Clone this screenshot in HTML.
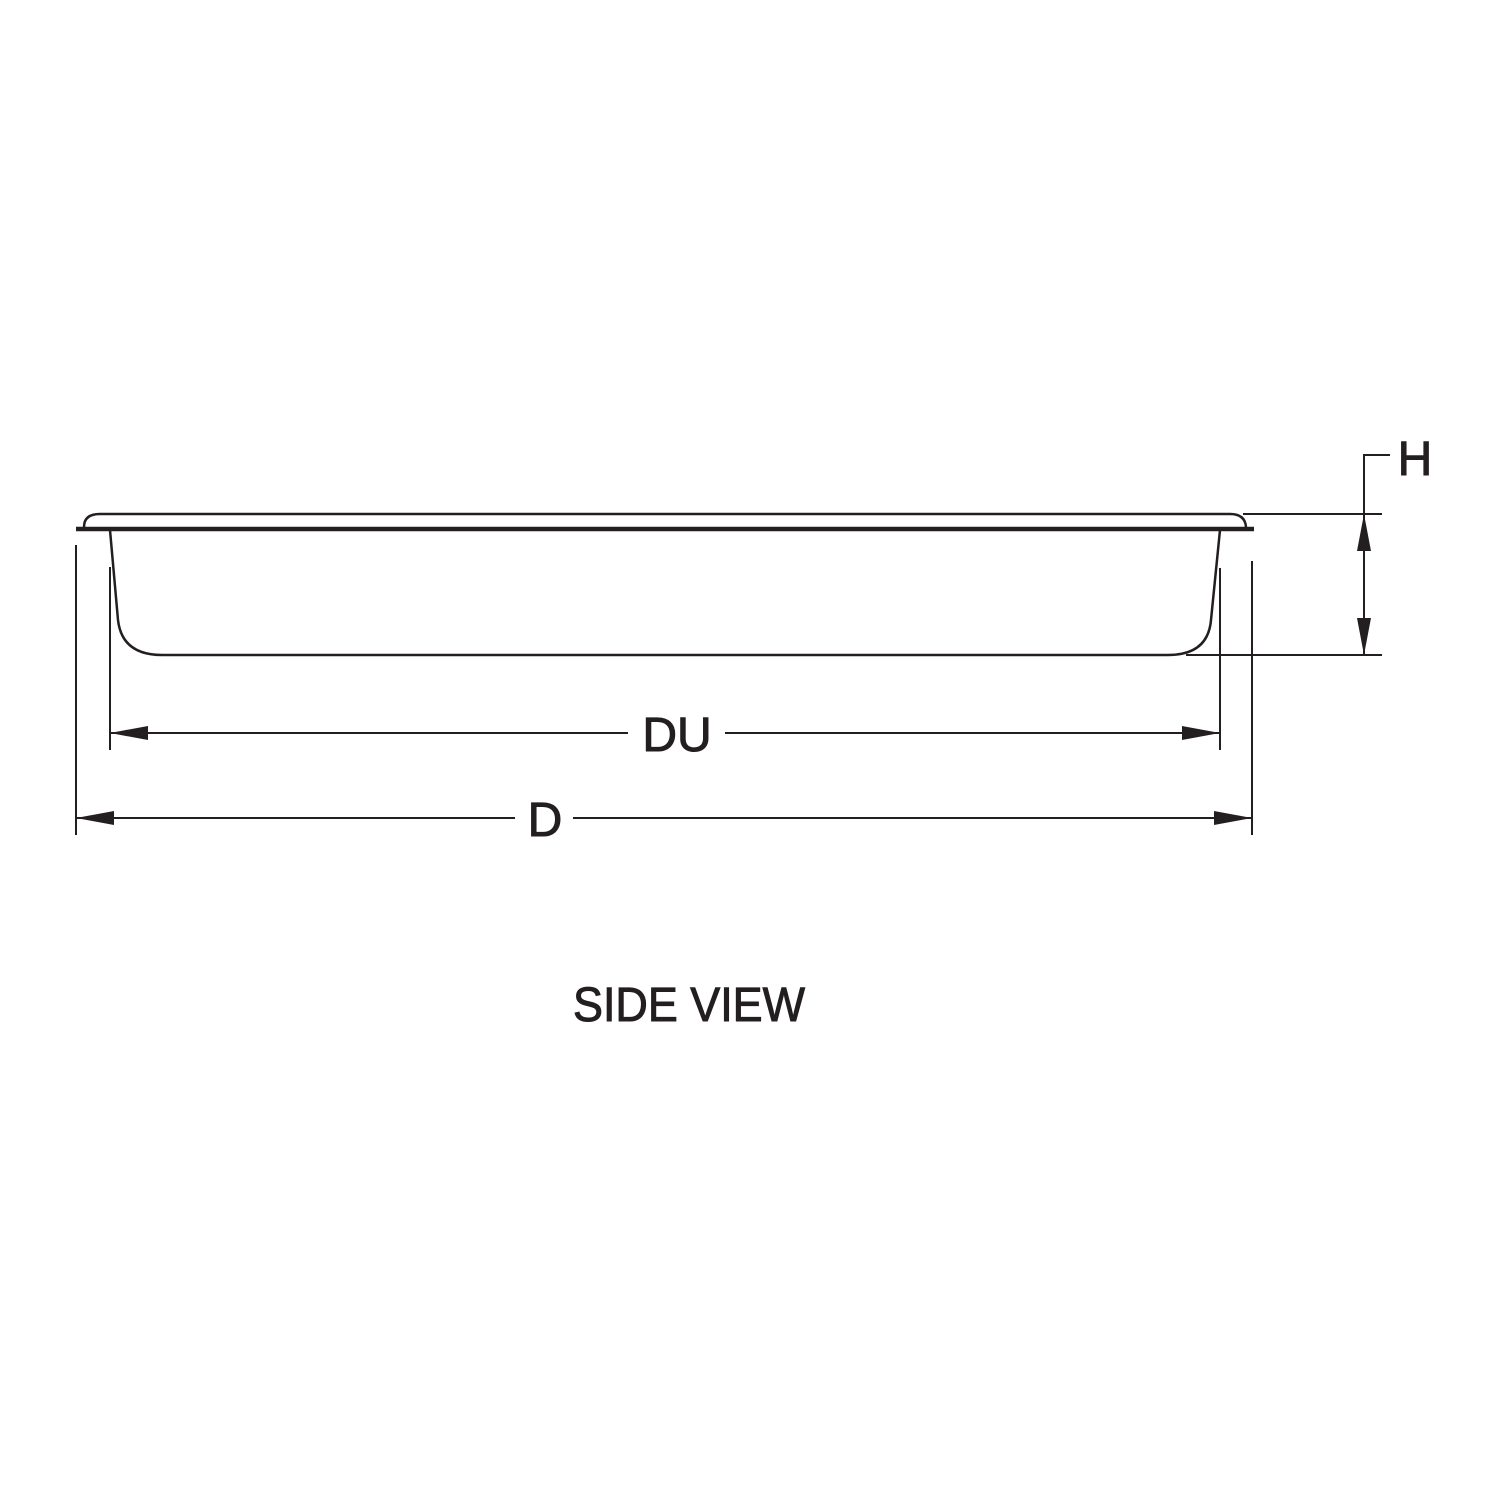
<!DOCTYPE html>
<html><head><style>body{margin:0;background:#fff}svg{display:block}</style></head><body>
<svg width="1500" height="1500" viewBox="0 0 1500 1500" xmlns="http://www.w3.org/2000/svg">
<g stroke="#231f20" fill="none">
<path d="M84 527 Q84 514 100 514 L1230 514 Q1245 514 1246 527" stroke-width="2.5"/>
<line x1="76" y1="529" x2="1254" y2="529" stroke-width="4.5"/>
<path d="M110 530 L118 620 Q122 655 162 655 L1168 655 Q1208 655 1211 620 L1220 530" stroke-width="2.5"/>
<line x1="76" y1="545" x2="76" y2="835" stroke-width="2"/>
<line x1="110" y1="567" x2="110" y2="750" stroke-width="2"/>
<line x1="1220" y1="568" x2="1220" y2="750" stroke-width="2"/>
<line x1="1252" y1="561" x2="1252" y2="835" stroke-width="2"/>
<line x1="1243" y1="514" x2="1382" y2="514" stroke-width="2"/>
<line x1="1186" y1="655" x2="1382" y2="655" stroke-width="2"/>
<polyline points="1390,455 1364,455 1364,655" stroke-width="2"/>
<line x1="110" y1="733" x2="628" y2="733" stroke-width="2"/>
<line x1="725" y1="733" x2="1220" y2="733" stroke-width="2"/>
<line x1="76" y1="818" x2="515" y2="818" stroke-width="2"/>
<line x1="573" y1="818" x2="1252" y2="818" stroke-width="2"/>
</g>
<g fill="#231f20">
<polygon points="1364,514 1357,551 1371,551"/>
<polygon points="1364,655 1357,618 1371,618"/>
<polygon points="110,733 148,726 148,740"/>
<polygon points="1220,733 1182,726 1182,740"/>
<polygon points="76,818 114,811 114,825"/>
<polygon points="1252,818 1214,811 1214,825"/>
</g>
<g font-family="Liberation Sans, sans-serif" fill="#231f20" font-size="48" stroke="#231f20" stroke-width="1">
<text x="1415" y="475" text-anchor="middle">H</text>
<text x="677" y="751" text-anchor="middle">DU</text>
<text x="545" y="836" text-anchor="middle">D</text>
<text x="573" y="1021" textLength="232" lengthAdjust="spacingAndGlyphs">SIDE VIEW</text>
</g>
</svg>
</body></html>
